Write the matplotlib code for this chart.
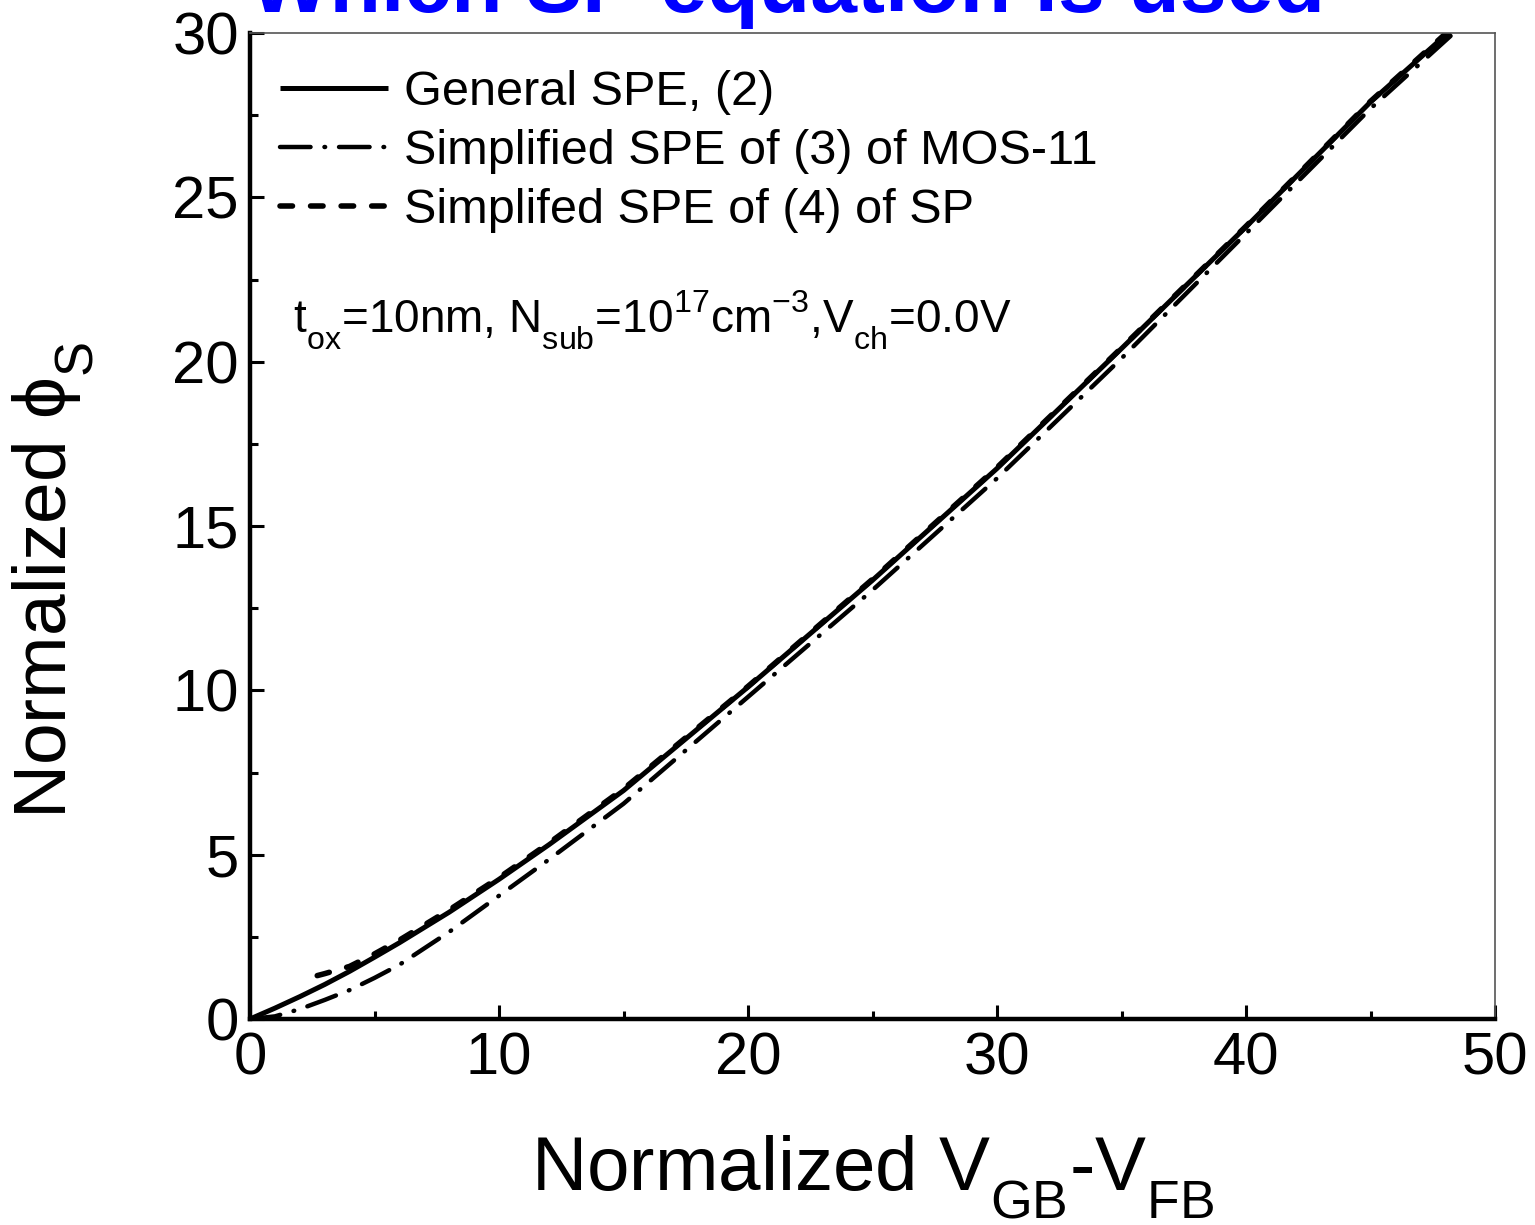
import matplotlib
matplotlib.use("Agg")
import matplotlib.pyplot as plt
from matplotlib.ticker import MultipleLocator

try:
    import matplotlib._mathtext as _mt
    _mt.FontConstantsBase.sub1 = 0.7
    _mt.FontConstantsBase.sub2 = 0.7
    _mt.FontConstantsBase.sup1 = 0.8
except Exception:
    pass

plt.rcParams['font.family'] = ['Liberation Sans', 'DejaVu Sans']
plt.rcParams['mathtext.default'] = 'regular'
plt.rcParams['lines.scale_dashes'] = False

# Data
x_gen = [0, 1, 2, 3, 4, 5, 6, 8, 10, 12, 15, 20, 25, 30, 35, 40, 45, 49]
phi_gen = [0, 0.33, 0.68, 1.05, 1.45, 1.88, 2.32, 3.25, 4.25, 5.3, 6.95, 10.1,
           13.35, 16.75, 20.4, 24.1, 27.9, 30.6]

x_mos = [0, 1, 2, 3, 4, 5, 6, 8, 10, 12, 15, 20, 25, 30, 35, 40, 45, 49]
phi_mos = [0, 0.08, 0.3, 0.58, 0.88, 1.25, 1.65, 2.65, 3.75, 4.85, 6.55, 9.8,
           13.05, 16.45, 20.1, 23.9, 27.7, 30.45]

x_sp = [2.7, 3, 4, 5, 6, 8, 10, 12, 15, 20, 25, 30, 35, 40, 45, 49]
phi_sp = [1.32, 1.38, 1.6, 1.98, 2.4, 3.32, 4.3, 5.35, 7.0, 10.12, 13.38, 16.78,
          20.42, 24.12, 27.92, 30.65]

labels = ["General SPE, (2)", "Simplified SPE of (3) of MOS-11",
          "Simplifed SPE of (4) of SP"]
title = "Which SP equation is used"
note = r"t$_{ox}$=10nm, N$_{sub}$=10$^{17}$cm$^{-3}$,V$_{ch}$=0.0V"

fig = plt.figure(figsize=(15.35, 12.25), dpi=100)
ax = fig.add_axes([250/1535, 1-1019/1225, 1245/1535, 986/1225])

ax.plot(x_gen, phi_gen, color='black', lw=3.6, solid_capstyle='butt', label=labels[0])
ax.plot(x_mos, phi_mos, color='black', lw=3.2, dash_capstyle='round',
        linestyle=(0, (22, 10, 0.5, 10)), label=labels[1])
ax.plot(x_sp, phi_sp, color='black', lw=4.0, dash_capstyle='round',
        linestyle=(0, (9, 13)), label=labels[2])

ax.set_xlim(0, 50)
ax.set_ylim(0, 30)
ax.xaxis.set_major_locator(MultipleLocator(10))
ax.xaxis.set_minor_locator(MultipleLocator(5))
ax.yaxis.set_major_locator(MultipleLocator(5))
ax.yaxis.set_minor_locator(MultipleLocator(2.5))
ax.tick_params(which='both', direction='in', top=False, right=False, width=2.2)
ax.tick_params(which='major', length=10, labelsize=43)
ax.tick_params(which='minor', length=5.5)
ax.tick_params(axis='x', which='major', pad=9)
ax.tick_params(axis='y', which='major', pad=8)

for s in ['left', 'bottom']:
    ax.spines[s].set_linewidth(3.2)
    ax.spines[s].set_color('black')
for s in ['top', 'right']:
    ax.spines[s].set_linewidth(1.2)
    ax.spines[s].set_color('#555555')

ax.set_xlabel(r"Normalized V$_{GB}$-V$_{FB}$", fontsize=55)
ax.set_ylabel("Normalized \u03d5$_{S}$", fontsize=54)
ax.xaxis.set_label_coords(0.5, -0.116)
ax.yaxis.set_label_coords(-0.124, 0.445)

leg = ax.legend(loc='upper left', bbox_to_anchor=(30/1245, 1-37/986),
                frameon=False, fontsize=35, handlelength=2.22,
                handletextpad=0.33, labelspacing=0.29, borderpad=0,
                borderaxespad=0)

ax.text(43/1245, (1019-333)/986, note, transform=ax.transAxes, fontsize=33,
        va='baseline', ha='left')

fig.text(250/1535, 1-12/1225, title, color='#0000FF', fontsize=60.7,
         fontweight='bold', ha='left', va='baseline')

fig.savefig("out.png", dpi=100)
